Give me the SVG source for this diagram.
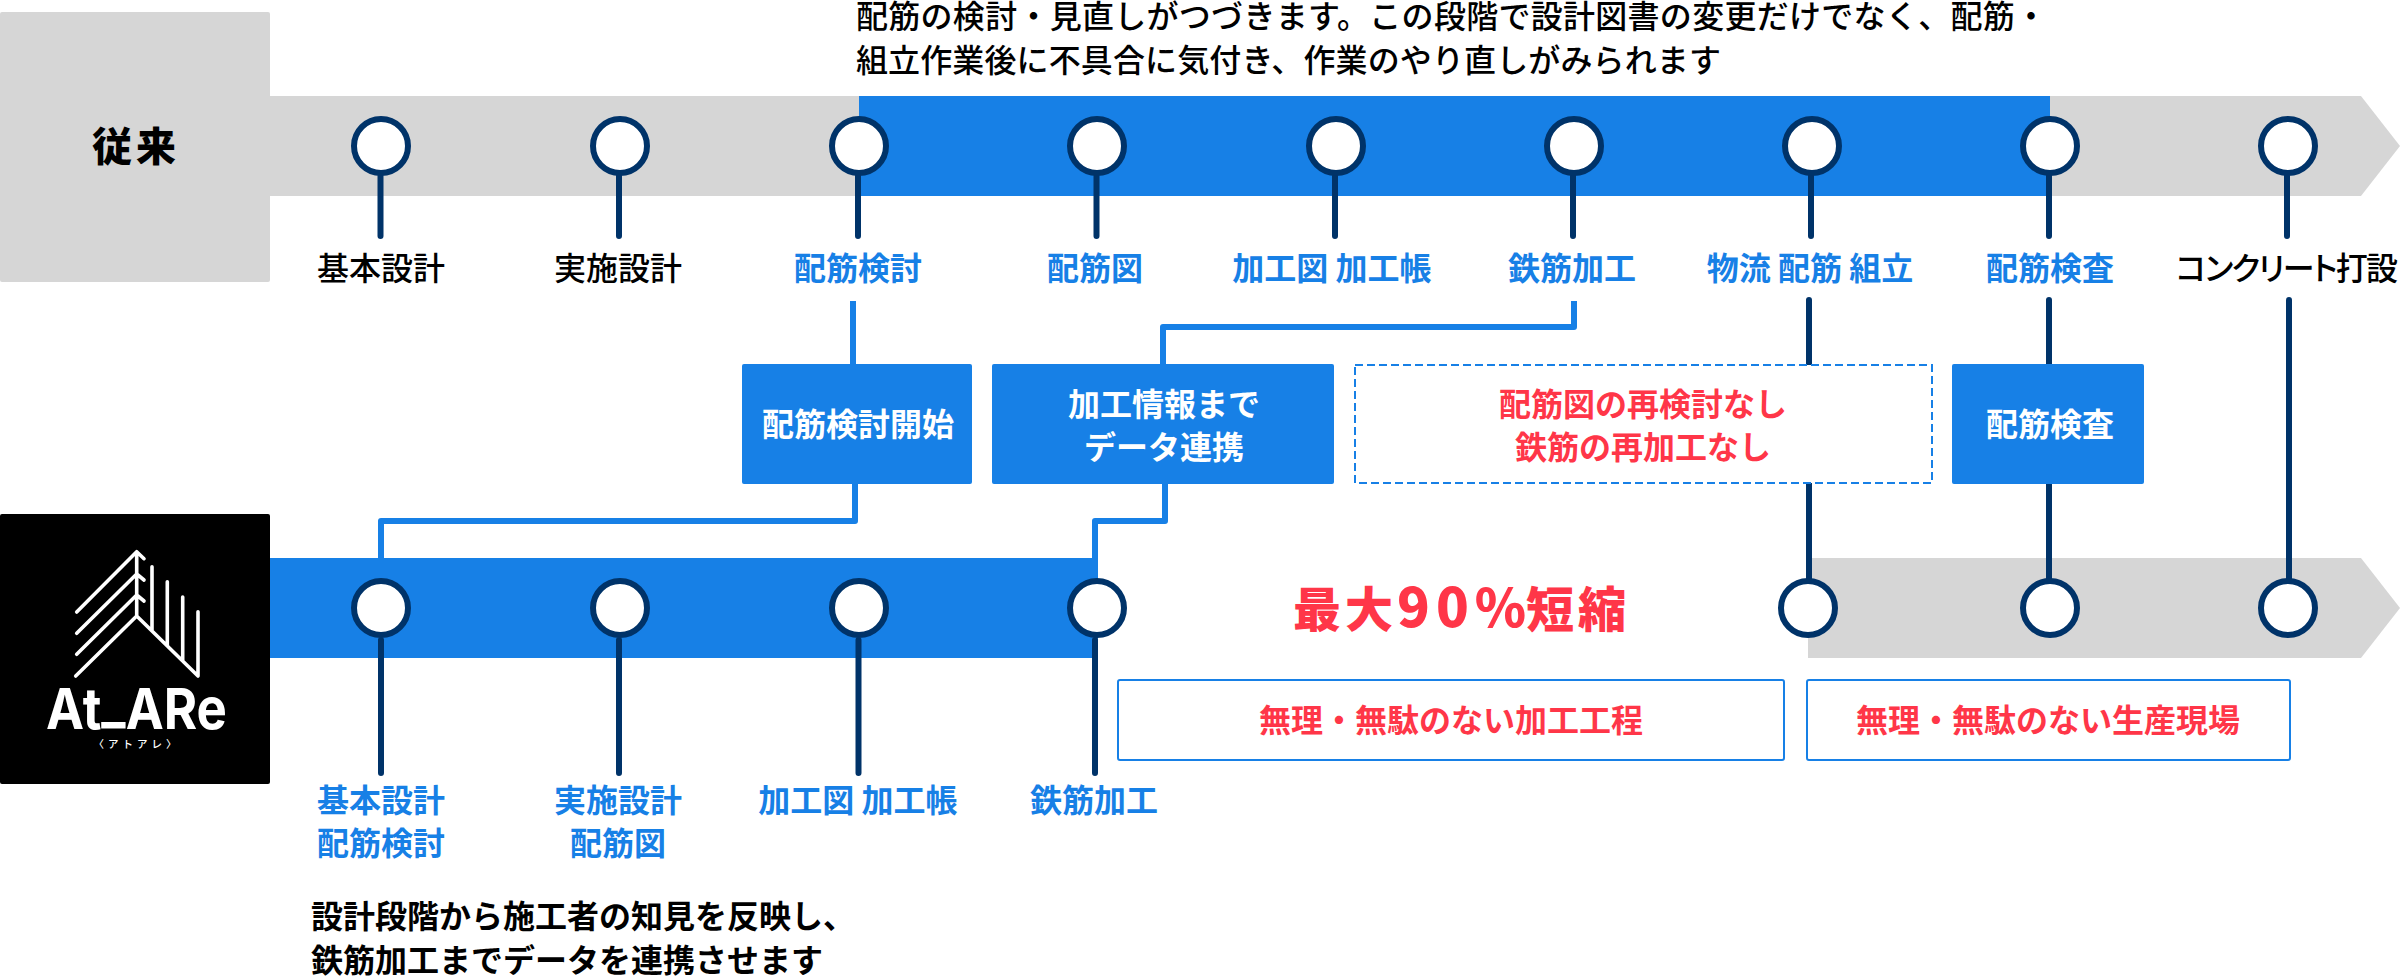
<svg xmlns="http://www.w3.org/2000/svg" width="2400" height="976" viewBox="0 0 2400 976">
<style>
text{font-family:"Noto Sans CJK JP","Noto Sans",sans-serif;font-size:32px;text-anchor:middle}
.k{fill:#000;font-weight:500}
.kb{fill:#000;font-weight:700}
.b{fill:#1780e6;font-weight:700}
.w{fill:#fff;font-weight:700}
.r{fill:#ff3648;font-weight:700}
.l{text-anchor:start}
.gray{fill:#d6d6d6}
.blue{fill:#1780e6}
.stem{fill:none;stroke:#003369;stroke-width:6;stroke-linecap:round}
.link{fill:none;stroke:#1780e6;stroke-width:6;stroke-linejoin:round}
.dot{fill:#fff;stroke:#003369;stroke-width:6}
.logo{fill:none;stroke:#fff;stroke-width:3.6;stroke-linecap:round;stroke-linejoin:round}
</style>
<g id="bands">
<rect class="gray" x="0" y="12" width="270" height="270" rx="2"/>
<path class="gray" d="M270 96H2361L2400 146L2361 196H270Z"/>
<rect class="blue" x="859" y="96" width="1191" height="100"/>
<rect class="blue" x="270" y="558" width="828" height="100"/>
<path class="gray" d="M1808 558H2361L2400 608L2361 658H1808Z"/>
</g>
<g id="connectors">
<path class="stem" d="M380.500 176V236M619 176V236M858 176V236M1096.500 176V236M1335 176V236M1573 176V236M1811 176V236M2049 176V236M2287 176V236"/>
<path class="stem" d="M1809 300V580M2049 300V580M2289 300V580"/>
<path class="stem" d="M381 640V773M619 640V773M858.500 640V773M1095 640V773"/>
<path class="link" d="M853 301V364"/>
<path class="link" d="M1163 364V327H1574V301"/>
<path class="link" d="M855 484V521H381V558"/>
<path class="link" d="M1165 484V521H1095V558"/>
</g>
<g id="label-conventional"><text class="kb" x="136" y="161" style="font-size:40px;font-weight:900;letter-spacing:4px">従来</text></g>
<g id="label-atare">
<rect x="0" y="514" width="270" height="270" rx="2" fill="#000"/>
<path class="logo" d="M76.700 612L136.700 551.700L144 558.700M76.700 633.300L136.700 574L144 580M76.700 654.300L136.700 595L144 601M75.700 676L136.700 616L198 676M136.700 551.700V616M152 566.700V630.700M167.300 581.700V645.700M182.700 597V661M198 611.700V676"/>
<text x="136.500" y="729" fill="#fff" style="font-family:Inter,'Liberation Sans',sans-serif;font-size:57px;font-weight:700" textLength="181" lengthAdjust="spacingAndGlyphs">At<tspan dy="-7">_</tspan><tspan dy="7">ARe</tspan></text>
<text x="137" y="747.500" fill="#fff" style="font-size:10.500px;font-weight:500;letter-spacing:4px">〈アトアレ〉</text>
</g>
<g id="note-top">
<text class="k l" x="856" y="28" textLength="1191">配筋の検討・見直しがつづきます。この段階で設計図書の変更だけでなく、配筋・</text>
<text class="k l" x="856" y="71.500" textLength="865">組立作業後に不具合に気付き、作業のやり直しがみられます</text>
</g>
<g id="dots-top">
<circle class="dot" cx="381" cy="146" r="27"/><circle class="dot" cx="620" cy="146" r="27"/><circle class="dot" cx="859" cy="146" r="27"/><circle class="dot" cx="1097" cy="146" r="27"/><circle class="dot" cx="1336" cy="146" r="27"/><circle class="dot" cx="1574" cy="146" r="27"/><circle class="dot" cx="1812" cy="146" r="27"/><circle class="dot" cx="2050" cy="146" r="27"/><circle class="dot" cx="2288" cy="146" r="27"/>
</g>
<g id="dots-bottom">
<circle class="dot" cx="381" cy="608" r="27"/><circle class="dot" cx="620" cy="608" r="27"/><circle class="dot" cx="859" cy="608" r="27"/><circle class="dot" cx="1097" cy="608" r="27"/><circle class="dot" cx="1808" cy="608" r="27"/><circle class="dot" cx="2050" cy="608" r="27"/><circle class="dot" cx="2288" cy="608" r="27"/>
</g>
<g id="labels-top">
<text class="k" x="381" y="280">基本設計</text>
<text class="k" x="618" y="280">実施設計</text>
<text class="b" x="858" y="280">配筋検討</text>
<text class="b" x="1095" y="280">配筋図</text>
<text class="b" x="1332" y="280">加工図 加工帳</text>
<text class="b" x="1572" y="280">鉄筋加工</text>
<text class="b" x="1810" y="280">物流 配筋 組立</text>
<text class="b" x="2050" y="280">配筋検査</text>
<text class="k l" x="2176" y="280" textLength="222" style="font-feature-settings:'palt'">コンクリート打設</text>
</g>
<g id="box-start"><rect class="blue" x="742" y="364" width="230" height="120" rx="2"/><text class="w" x="858" y="436">配筋検討開始</text></g>
<g id="box-data"><rect class="blue" x="992" y="364" width="342" height="120" rx="2"/><text class="w" x="1164" y="416">加工情報まで</text><text class="w" x="1164" y="459">データ連携</text></g>
<g id="box-none"><rect x="1355" y="365" width="577" height="118" fill="#fff" stroke="#1780e6" stroke-width="2" stroke-dasharray="8 4"/><text class="r" x="1643" y="416">配筋図の再検討なし</text><text class="r" x="1643" y="459">鉄筋の再加工なし</text></g>
<g id="box-inspect"><rect class="blue" x="1952" y="364" width="192" height="120" rx="2"/><text class="w" x="2050" y="436">配筋検査</text></g>
<g id="label-reduction"><text style="font-size:48px;font-weight:900;letter-spacing:4px;fill:#ff3648;text-anchor:start" x="1293" y="627">最大<tspan style="font-size:54px;letter-spacing:6px">90</tspan><tspan style="font-size:52px;letter-spacing:0">%</tspan>短縮</text></g>
<g id="box-process"><rect x="1118" y="680" width="666" height="80" rx="2" fill="#fff" stroke="#1780e6" stroke-width="2"/><text class="r" x="1451" y="732">無理・無駄のない加工工程</text></g>
<g id="box-site"><rect x="1807" y="680" width="483" height="80" rx="2" fill="#fff" stroke="#1780e6" stroke-width="2"/><text class="r" x="2048" y="732">無理・無駄のない生産現場</text></g>
<g id="labels-bottom">
<text class="b" x="381" y="812">基本設計</text><text class="b" x="381" y="855">配筋検討</text>
<text class="b" x="618" y="812">実施設計</text><text class="b" x="618" y="855">配筋図</text>
<text class="b" x="858" y="812">加工図 加工帳</text>
<text class="b" x="1094" y="812">鉄筋加工</text>
</g>
<g id="note-bottom">
<text class="kb l" x="311" y="928">設計段階から施工者の知見を反映し、</text>
<text class="kb l" x="311" y="972">鉄筋加工までデータを連携させます</text>
</g>
</svg>
